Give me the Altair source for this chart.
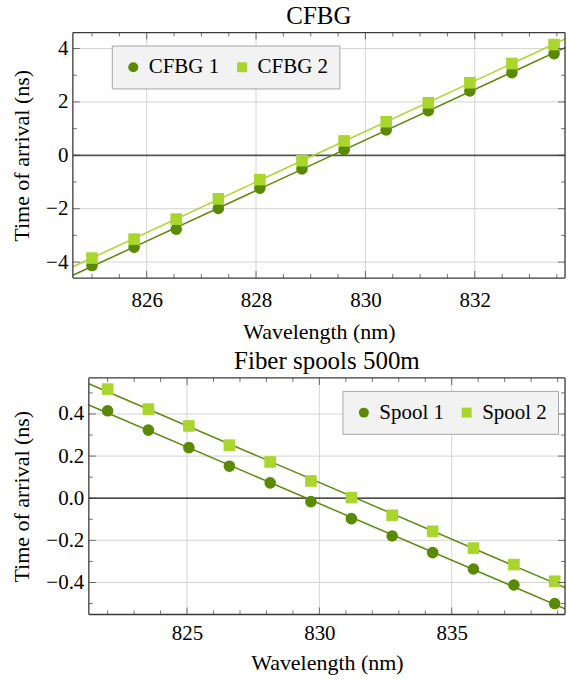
import altair as alt
import pandas as pd

FONT = "Liberation Serif"
DARK = "#5a8a04"
LIGHT = "#a8d62c"
LINE_DARK = "#5c8c10"
FRAME = "#3a3a3a"
GRID = "#d4d4d4"

# ---------------- data ----------------
cfbg_x = [825.00, 825.77, 826.54, 827.31, 828.07, 828.84, 829.61, 830.38, 831.15, 831.91, 832.68, 833.45]
cfbg1_y = [-4.13, -3.44, -2.77, -1.99, -1.23, -0.51, 0.21, 0.95, 1.67, 2.41, 3.10, 3.81]
cfbg2_y = [-3.85, -3.14, -2.39, -1.63, -0.91, -0.20, 0.54, 1.26, 1.97, 2.72, 3.44, 4.15]

spool_x = [822.00, 823.54, 825.07, 826.60, 828.14, 829.68, 831.21, 832.75, 834.28, 835.82, 837.35, 838.89]
spool1_y = [0.415, 0.323, 0.240, 0.152, 0.073, -0.016, -0.097, -0.179, -0.258, -0.336, -0.412, -0.500]
spool2_y = [0.518, 0.423, 0.343, 0.252, 0.172, 0.082, 0.003, -0.081, -0.157, -0.237, -0.315, -0.394]

cfbg_names = ["CFBG 1", "CFBG 2"]
spool_names = ["Spool 1", "Spool 2"]

# axis ticks
cfbg_xmajor = [826, 828, 830, 832]
cfbg_xminor = [825, 825.5, 826.5, 827, 827.5, 828.5, 829, 829.5, 830.5, 831, 831.5, 832.5, 833, 833.5]
cfbg_ymajor = [-4, -2, 0, 2, 4]
cfbg_yminor = [-3, -1, 1, 3]
spool_xmajor = [825, 830, 835]
spool_xminor = [822, 823, 824, 826, 827, 828, 829, 831, 832, 833, 834, 836, 837, 838, 839]
spool_ymajor = [-0.4, -0.2, 0.0, 0.2, 0.4]
spool_yminor = [-0.5, -0.3, -0.1, 0.1, 0.3, 0.5]

cfbg_xdom = [824.65, 833.65]
cfbg_ydom = [-4.6, 4.6]
spool_xdom = [821.29, 839.28]
spool_ydom = [-0.552, 0.571]


def frame_df(xs, ys1, ys2, names):
    return pd.DataFrame({
        "x": list(xs) + list(xs),
        "y": list(ys1) + list(ys2),
        "series": [names[0]] * len(xs) + [names[1]] * len(xs),
    })


def panel(df, names, xdom, ydom, xmaj, xmin, ymaj, ymin, W, H, x0, title, title_dx,
          point_colors, line_colors, zero_color, zero_width, yfmt, lx, ly, lab_pad, tit_pad):
    xs = alt.Scale(domain=xdom, range=[x0, W], nice=False, zero=False)
    ys = alt.Scale(domain=ydom, nice=False, zero=False)
    nx = dict(scale=xs, axis=None)
    ny = dict(scale=ys, axis=None)

    layers = []

    # grid lines at the major ticks
    layers.append(alt.Chart(pd.DataFrame({"v": xmaj})).mark_rule(color=GRID, strokeWidth=1).encode(
        x=alt.X("v:Q", **nx), y=alt.YDatum(ydom[0], **ny), y2=alt.Y2Datum(ydom[1])))
    layers.append(alt.Chart(pd.DataFrame({"v": [v for v in ymaj if v != 0]})).mark_rule(
        color=GRID, strokeWidth=1).encode(
        y=alt.Y("v:Q", **ny), x=alt.XDatum(xdom[0], **nx), x2=alt.X2Datum(xdom[1])))

    # zero axis line
    layers.append(alt.Chart(pd.DataFrame({"v": [0]})).mark_rule(
        color=zero_color, strokeWidth=zero_width).encode(
        y=alt.Y("v:Q", **ny), x=alt.XDatum(xdom[0], **nx), x2=alt.X2Datum(xdom[1])))

    # fitted lines
    for i in range(2):
        layers.append(alt.Chart(df).transform_filter(
            alt.datum.series == names[i]
        ).transform_regression("x", "y", extent=xdom).mark_line(
            strokeWidth=1.5, clip=True, color=line_colors[i]
        ).encode(x=alt.X("x:Q", **nx), y=alt.Y("y:Q", **ny)))

    leg = alt.Legend(orient="none", legendX=lx, legendY=ly, direction="horizontal",
                     fillColor="#f2f2f2", strokeColor="#a8a8a8", padding=11,
                     labelFont=FONT, labelFontSize=21, labelColor="black",
                     symbolSize=100, columnPadding=12, labelOffset=5)

    layers.append(alt.Chart(df).mark_point(filled=True, size=135, opacity=1).encode(
        x=alt.X("x:Q", scale=xs, title="Wavelength (nm)",
                axis=alt.Axis(orient="bottom", values=xmaj, format="d", ticks=False,
                              domain=False, grid=False,
                              labelFont=FONT, labelFontSize=21, labelColor="black",
                              labelPadding=lab_pad, labelFlush=False, labelOverlap=False,
                              titleFont=FONT, titleFontSize=22, titleFontWeight="normal",
                              titleColor="black", titlePadding=tit_pad)),
        y=alt.Y("y:Q", scale=ys, title="Time of arrival (ns)",
                axis=alt.Axis(orient="left", values=ymaj, offset=-x0,
                              format=yfmt, ticks=False, minExtent=0,
                              domain=False, grid=False,
                              labelFont=FONT, labelFontSize=21, labelColor="black",
                              labelPadding=5, labelFlush=False, labelOverlap=False,
                              titleFont=FONT, titleFontSize=22, titleFontWeight="normal",
                              titleColor="black", titlePadding=12)),
        color=alt.Color("series:N", title=None,
                        scale=alt.Scale(domain=names, range=point_colors), legend=leg),
        shape=alt.Shape("series:N", title=None,
                        scale=alt.Scale(domain=names, range=["circle", "square"]), legend=leg),
    ))

    # frame
    seg = pd.DataFrame({
        "x1": [xdom[0], xdom[0], xdom[0], xdom[1]],
        "x2": [xdom[1], xdom[1], xdom[0], xdom[1]],
        "y1": [ydom[0], ydom[1], ydom[0], ydom[0]],
        "y2": [ydom[0], ydom[1], ydom[1], ydom[1]],
    })
    layers.append(alt.Chart(seg).mark_rule(color=FRAME, strokeWidth=1.3).encode(
        x=alt.X("x1:Q", **nx), x2="x2:Q", y=alt.Y("y1:Q", **ny), y2="y2:Q"))

    # inward ticks on all four sides
    for vals, size in ((xmaj, 7), (xmin, 4)):
        d = pd.DataFrame({"v": vals})
        for edge, off in ((ydom[0], -size / 2), (ydom[1], size / 2)):
            layers.append(alt.Chart(d).mark_tick(
                orient="vertical", size=size, thickness=1, color=FRAME, yOffset=off
            ).encode(x=alt.X("v:Q", **nx), y=alt.YDatum(edge, **ny)))
    for vals, size in ((ymaj, 7), (ymin, 4)):
        d = pd.DataFrame({"v": vals})
        for edge, off in ((xdom[0], size / 2), (xdom[1], -size / 2)):
            layers.append(alt.Chart(d).mark_tick(
                orient="horizontal", size=size, thickness=1, color=FRAME, xOffset=off
            ).encode(y=alt.Y("v:Q", **ny), x=alt.XDatum(edge, **nx)))

    return alt.layer(*layers).resolve_axis(
        x="independent", y="independent"
    ).properties(
        width=W, height=H,
        title=alt.TitleParams(text=title, font=FONT, fontSize=25, fontWeight="normal",
                              color="black", anchor="middle", frame="group", dx=title_dx,
                              baseline="bottom", offset=-22),
    )


top = panel(frame_df(cfbg_x, cfbg1_y, cfbg2_y, cfbg_names), cfbg_names,
            cfbg_xdom, cfbg_ydom, cfbg_xmajor, cfbg_xminor, cfbg_ymajor, cfbg_yminor,
            493, 246, 0, "CFBG", 0, [DARK, LIGHT], [DARK, LIGHT], "#555555", 1.8,
            "d", 39, 13, 11, 12)

bottom = panel(frame_df(spool_x, spool1_y, spool2_y, spool_names), spool_names,
               spool_xdom, spool_ydom, spool_xmajor, spool_xminor, spool_ymajor, spool_yminor,
               493, 237, 16, "Fiber spools 500m", 8, [DARK, LIGHT], [LINE_DARK, LINE_DARK],
               "#111111", 1.2, ".1f", 270, 13, 8, 9)

chart = alt.concat(top, bottom, columns=1, spacing=4).resolve_scale(
    color="independent", shape="independent"
).properties(
    padding={"left": 10, "top": 2, "right": 0, "bottom": 0},
    background="white",
).configure_view(stroke="transparent")

chart.save("out.html", embed_options={"renderer": "svg", "actions": False})
